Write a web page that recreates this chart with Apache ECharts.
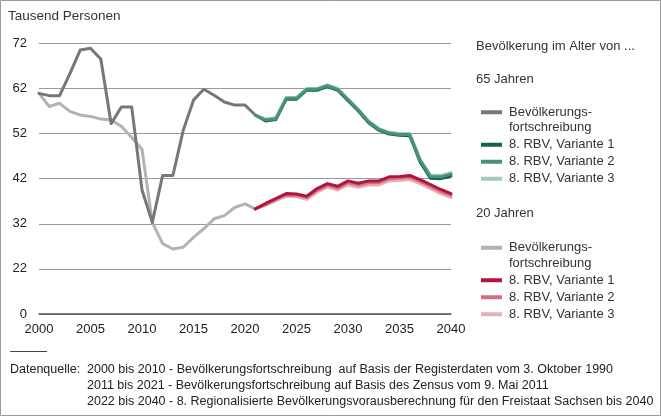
<!DOCTYPE html>
<html>
<head>
<meta charset="utf-8">
<script src="https://cdn.jsdelivr.net/npm/echarts@6/dist/echarts.min.js"></script>
<style>
html,body{margin:0;padding:0;background:#fff;}
#c{width:661px;height:416px;}
</style>
</head>
<body>
<div id="c"></div>
<script>
// Years
const histYears = [2000,2001,2002,2003,2004,2005,2006,2007,2008,2009,2010,2011,2012,2013,2014,2015,2016,2017,2018,2019,2020,2021];
const projYears = [2021,2022,2023,2024,2025,2026,2027,2028,2029,2030,2031,2032,2033,2034,2035,2036,2037,2038,2039,2040];

// 65 Jahren (Tausend Personen)
const hist65 = [60.9,60.4,60.4,65.3,70.5,70.9,68.5,54.2,57.9,57.9,39.5,32.3,42.7,42.7,52.7,59.4,61.8,60.5,59.0,58.3,58.3,56.1];
const v1_65  = [56.1,54.8,55.1,59.6,59.6,61.6,61.6,62.4,61.6,59.3,57.0,54.4,52.7,51.9,51.6,51.5,45.7,42.1,42.0,42.6];
const v2_65  = [56.1,55.0,55.3,59.8,59.8,61.8,61.8,62.6,61.8,59.5,57.2,54.6,52.9,52.1,51.8,51.8,46.1,42.5,42.4,43.0];
const v3_65  = [56.1,55.2,55.5,60.0,60.0,62.0,62.0,62.8,62.0,59.7,57.4,54.8,53.1,52.3,52.0,52.0,46.3,42.8,42.7,43.3];

// 20 Jahren (Tausend Personen)
const hist20 = [60.9,58.0,58.7,56.9,56.1,55.8,55.2,55.0,53.6,51.1,48.5,32.3,27.6,26.4,26.8,29.0,30.9,33.1,33.8,35.6,36.4,35.3];
const v1_20  = [35.3,36.5,37.6,38.7,38.6,38.1,39.8,40.9,40.3,41.5,41.0,41.5,41.5,42.4,42.5,42.7,41.8,40.7,39.6,38.7];
const v2_20  = [35.3,36.3,37.4,38.4,38.3,37.8,39.4,40.5,39.9,41.1,40.6,41.1,41.1,42.0,42.1,42.3,41.4,40.3,39.2,38.3];
const v3_20  = [35.3,36.1,37.1,38.1,38.0,37.4,39.0,40.1,39.5,40.6,40.1,40.6,40.6,41.5,41.6,41.8,40.9,39.8,38.7,37.8];

// Axis ticks (the lowest tick is the axis break, labelled 0)
const yTicks = [12,22,32,42,52,62,72];
const yTickLabels = ['0','22','32','42','52','62','72'];
const xTicks = [2000,2005,2010,2015,2020,2025,2030,2035,2040];

const legendLabels = {
  'h65':'\nBevölkerungs-\nfortschreibung',
  'a65':'8. RBV, Variante 1',
  'b65':'8. RBV, Variante 2',
  'c65':'8. RBV, Variante 3',
  'h20':'\nBevölkerungs-\nfortschreibung',
  'a20':'8. RBV, Variante 1',
  'b20':'8. RBV, Variante 2',
  'c20':'8. RBV, Variante 3'
};

const zip = (xs, ys) => xs.map((x,i)=>[x, ys[i]]);
const FONT = '"Liberation Sans", Arial, sans-serif';
const NARROW = '"Liberation Sans Narrow", "Liberation Sans", Arial, sans-serif';

function line(name, xs, ys, color, z){
  return {name, type:'line', data:zip(xs,ys), symbol:'none', z,
    lineStyle:{color, width:3, cap:'round', join:'round'}, itemStyle:{color},
    emphasis:{disabled:true}};
}

const chart = echarts.init(document.getElementById('c'), null, {renderer:'canvas'});
const legendCommon = {
  orient:'vertical', left:476, itemWidth:21, itemHeight:4, itemGap:1.5, icon:'rect',
  selectedMode:false,
  formatter: n => legendLabels[n],
  textStyle:{fontFamily:FONT, fontSize:13, color:'#333', lineHeight:15.5, padding:[0,0,0,2]}
};

chart.setOption({
  animation:false,
  backgroundColor:'#fff',
  textStyle:{fontFamily:FONT},
  grid:{left:39, right:210, top:43.3, bottom:102, containLabel:false},
  xAxis:{type:'value', min:2000, max:2040, interval:5,
    axisLine:{show:true, lineStyle:{color:'#555', width:1.5}},
    axisTick:{show:false}, splitLine:{show:false},
    axisLabel:{fontFamily:FONT, fontSize:13, color:'#222', margin:9,
      formatter:v => xTicks.includes(v) ? String(v) : ''}},
  yAxis:{type:'value', min:yTicks[0], max:yTicks[yTicks.length-1], interval:10,
    axisLine:{show:false}, axisTick:{show:false},
    splitLine:{show:true, lineStyle:{color:'#9a9a9a', width:1}},
    axisLabel:{fontFamily:FONT, fontSize:13, color:'#222', margin:12,
      formatter:v => yTickLabels[yTicks.indexOf(v)] ?? ''}},
  legend:[
    Object.assign({}, legendCommon, {top:84, data:['h65','a65','b65','c65']}),
    Object.assign({}, legendCommon, {top:219.5, data:['h20','a20','b20','c20']})
  ],
  series:[
    line('h20', histYears, hist20, '#b3b3b3', 2),
    line('h65', histYears, hist65, '#777777', 3),
    line('c20', projYears, v3_20, '#e4b2b2', 4),
    line('b20', projYears, v2_20, '#d0707e', 5),
    line('a20', projYears, v1_20, '#b0143f', 6),
    line('a65', projYears, v1_65, '#0f6646', 4),
    line('c65', projYears, v3_65, '#a6cabb', 5),
    line('b65', projYears, v2_65, '#4a9277', 6)
  ],
  graphic:[
    {type:'rect', silent:true, z:100, shape:{x:0.5, y:0.5, width:660, height:415},
      style:{fill:'none', stroke:'#3a3a3a', lineWidth:1}},
    {type:'text', left:8, top:9, style:{text:'Tausend Personen', font:'13.5px '+FONT, fill:'#333'}},
    {type:'text', left:476, top:40, style:{text:'Bevölkerung im Alter von ...', font:'13px '+FONT, fill:'#333'}},
    {type:'text', left:476, top:73, style:{text:'65 Jahren', font:'13px '+FONT, fill:'#333'}},
    {type:'text', left:476, top:207, style:{text:'20 Jahren', font:'13px '+FONT, fill:'#333'}},
    {type:'line', shape:{x1:10, y1:351.5, x2:47, y2:351.5}, style:{stroke:'#444', lineWidth:1}},
    {type:'text', left:10, top:363, style:{text:'Datenquelle:', font:'12.5px '+NARROW, fill:'#222'}},
    {type:'text', left:87, top:363, style:{text:'2000 bis 2010 - Bevölkerungsfortschreibung  auf Basis der Registerdaten vom 3. Oktober 1990', font:'12.5px '+NARROW, fill:'#222'}},
    {type:'text', left:87, top:379, style:{text:'2011 bis 2021 - Bevölkerungsfortschreibung auf Basis des Zensus vom 9. Mai 2011', font:'12.5px '+NARROW, fill:'#222'}},
    {type:'text', left:87, top:395, style:{text:'2022 bis 2040 - 8. Regionalisierte Bevölkerungsvorausberechnung für den Freistaat Sachsen bis 2040', font:'12.5px '+NARROW, fill:'#222'}}
  ]
});

// axis break mark on the y axis, placed through the axis scale
const pTop = chart.convertToPixel({gridIndex:0}, [2000, 19.5]);
const pBot = chart.convertToPixel({gridIndex:0}, [2000, 13.5]);
const bx = pTop[0] + 2, yt = pTop[1], yb = pBot[1], ym = (yt+yb)/2;
chart.setOption({graphic:[{type:'polyline', silent:true, z:50,
  shape:{points:[[bx,yt],[bx,ym-4],[bx-6,ym+1],[bx+6,ym-1],[bx,ym+4],[bx,yb]]},
  style:{stroke:'#9a9a9a', lineWidth:1, fill:'none'}}]});
</script>
</body>
</html>
